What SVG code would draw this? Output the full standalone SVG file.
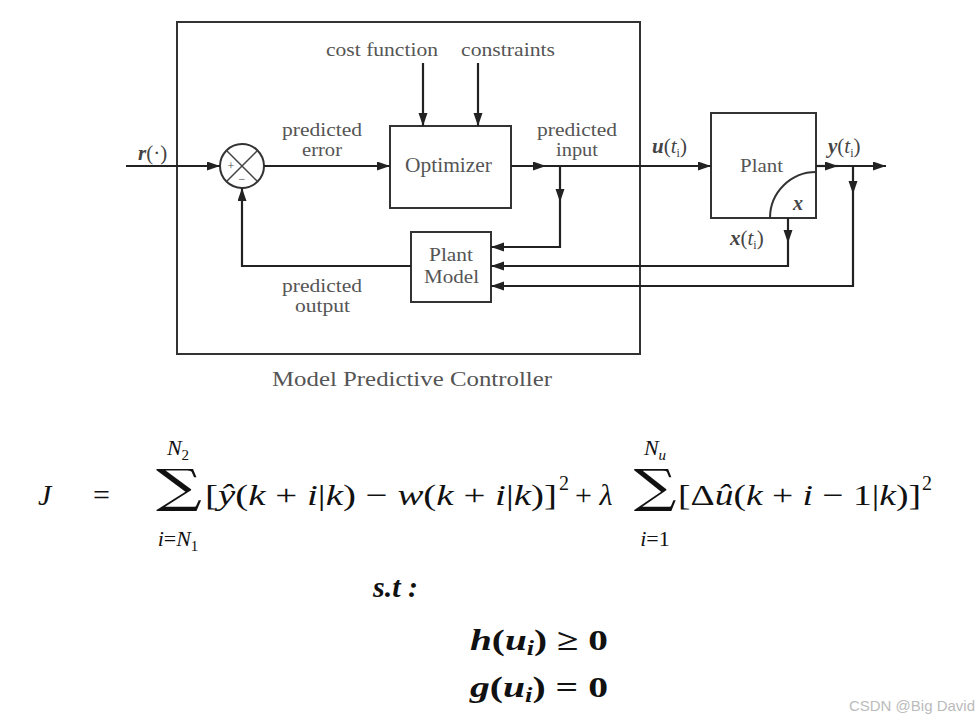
<svg xmlns="http://www.w3.org/2000/svg" width="978" height="722" viewBox="0 0 978 722">
<defs>
<marker id="ah" markerUnits="userSpaceOnUse" markerWidth="14" markerHeight="10" refX="13" refY="4.5" orient="auto"><path d="M0,0 L13,4.5 L0,9 z" fill="#222"/></marker>
<style>
.box{fill:none;stroke:#333;stroke-width:2}
.ln{fill:none;stroke:#222;stroke-width:2.2}
.lbl{font-family:"Liberation Serif",serif;font-size:19px;fill:#555}
.sym{font-family:"Liberation Serif",serif;font-size:21px;fill:#444}
.m{font-family:"Liberation Serif","DejaVu Serif",serif;font-size:30px;fill:#111}
.ms{font-family:"Liberation Serif","DejaVu Serif",serif;font-size:22px;fill:#111}
.sig{font-family:"DejaVu Serif",serif;font-size:46px;fill:#111}
</style>
</defs>
<rect width="978" height="722" fill="#fff"/>
<g id="mpc"><rect class="box" x="177" y="22" width="463" height="332"/>
<text class="lbl" x="272" y="386" textLength="280" lengthAdjust="spacingAndGlyphs" style="font-size:21px">Model Predictive Controller</text></g>
<g id="sum"><circle cx="242" cy="166" r="22" fill="#fff" stroke="#333" stroke-width="2"/>
<path d="M226.5,150.5 L257.5,181.5 M257.5,150.5 L226.5,181.5" stroke="#444" stroke-width="1.5"/>
<text x="231" y="170" font-family="Liberation Serif,serif" font-size="12" fill="#444" text-anchor="middle">+</text>
<text x="242" y="183" font-family="Liberation Serif,serif" font-size="12" fill="#444" text-anchor="middle">−</text></g>
<g id="optimizer"><rect class="box" x="390" y="126" width="121" height="82"/>
<text class="lbl" x="405" y="172" textLength="87" lengthAdjust="spacingAndGlyphs" style="font-size:21px">Optimizer</text></g>
<g id="plantmodel"><rect class="box" x="411" y="232" width="80" height="70"/>
<text class="lbl" x="429" y="261" textLength="44" lengthAdjust="spacingAndGlyphs">Plant</text>
<text class="lbl" x="424" y="283" textLength="55" lengthAdjust="spacingAndGlyphs">Model</text></g>
<g id="plant"><rect class="box" x="711" y="113" width="105" height="105"/>
<path d="M770,218 A46,46 0 0 1 816,172" class="box"/>
<text class="lbl" x="740" y="172" textLength="43" lengthAdjust="spacingAndGlyphs">Plant</text>
<text x="798" y="210" font-family="Liberation Serif,serif" font-size="20" font-style="italic" font-weight="bold" fill="#444" text-anchor="middle">x</text></g>
<g id="connectors">
<path class="ln" d="M126,166 H220" marker-end="url(#ah)"/>
<path class="ln" d="M264,166 H390" marker-end="url(#ah)"/>
<path class="ln" d="M423,63 V126" marker-end="url(#ah)"/>
<path class="ln" d="M478,63 V126" marker-end="url(#ah)"/>
<path class="ln" d="M511,166 H546" marker-end="url(#ah)"/>
<path class="ln" d="M546,166 H711" marker-end="url(#ah)"/>
<path class="ln" d="M560,166 V202" marker-end="url(#ah)"/>
<path class="ln" d="M560,202 V247 H491" marker-end="url(#ah)"/>
<path class="ln" d="M788,218 V243" marker-end="url(#ah)"/>
<path class="ln" d="M788,243 V266 H491" marker-end="url(#ah)"/>
<path class="ln" d="M816,166 H838" marker-end="url(#ah)"/>
<path class="ln" d="M838,166 H886" marker-end="url(#ah)"/>
<path class="ln" d="M853,166 V194" marker-end="url(#ah)"/>
<path class="ln" d="M853,194 V286 H491" marker-end="url(#ah)"/>
<path class="ln" d="M411,266 H242 V188" marker-end="url(#ah)"/>
</g>
<g id="labels">
<text class="lbl" x="326" y="56" textLength="112" lengthAdjust="spacingAndGlyphs">cost function</text>
<text class="lbl" x="461" y="56" textLength="94" lengthAdjust="spacingAndGlyphs">constraints</text>
<text class="lbl" x="282" y="136" textLength="80" lengthAdjust="spacingAndGlyphs">predicted</text>
<text class="lbl" x="302" y="156" textLength="40" lengthAdjust="spacingAndGlyphs">error</text>
<text class="lbl" x="537" y="136" textLength="80" lengthAdjust="spacingAndGlyphs">predicted</text>
<text class="lbl" x="556" y="156" textLength="42" lengthAdjust="spacingAndGlyphs">input</text>
<text class="lbl" x="282" y="292" textLength="80" lengthAdjust="spacingAndGlyphs">predicted</text>
<text class="lbl" x="295" y="312" textLength="55" lengthAdjust="spacingAndGlyphs">output</text>
<text class="sym" x="138" y="160"><tspan font-weight="bold" font-style="italic">r</tspan>(·)</text>
<text class="sym" x="652" y="153"><tspan font-weight="bold" font-style="italic">u</tspan>(<tspan font-style="italic">t</tspan><tspan font-size="12" dy="4">i</tspan><tspan dy="-4">)</tspan></text>
<text class="sym" x="828" y="153"><tspan font-weight="bold" font-style="italic">y</tspan>(<tspan font-style="italic">t</tspan><tspan font-size="12" dy="4">i</tspan><tspan dy="-4">)</tspan></text>
<text class="sym" x="730" y="245"><tspan font-weight="bold" font-style="italic">x</tspan>(<tspan font-style="italic">t</tspan><tspan font-size="12" dy="4">i</tspan><tspan dy="-4">)</tspan></text>
</g>
<g id="formula">
<text class="m" x="38" y="505" font-style="italic">J</text>
<text class="m" x="93" y="505">=</text>
<text class="sig" transform="translate(179,502) scale(1.4,1)" text-anchor="middle">∑</text>
<text class="ms" x="178" y="455" text-anchor="middle"><tspan font-style="italic">N</tspan><tspan font-size="15" dy="5">2</tspan></text>
<text class="ms" x="178" y="546" text-anchor="middle"><tspan font-style="italic">i</tspan>=<tspan font-style="italic">N</tspan><tspan font-size="15" dy="5">1</tspan></text>
<text class="m" x="205" y="505" textLength="352" lengthAdjust="spacingAndGlyphs">[<tspan font-style="italic">ŷ</tspan>(<tspan font-style="italic">k</tspan> + <tspan font-style="italic">i</tspan>|<tspan font-style="italic">k</tspan>) − <tspan font-style="italic">w</tspan>(<tspan font-style="italic">k</tspan> + <tspan font-style="italic">i</tspan>|<tspan font-style="italic">k</tspan>)]</text>
<text class="ms" x="559" y="490" style="font-size:20px">2</text>
<text class="m" x="575" y="505">+ <tspan font-style="italic">λ</tspan></text>
<text class="sig" transform="translate(655,502) scale(1.3,1)" text-anchor="middle">∑</text>
<text class="ms" x="655" y="455" text-anchor="middle"><tspan font-style="italic">N</tspan><tspan font-size="15" dy="5" font-style="italic">u</tspan></text>
<text class="ms" x="655" y="546" text-anchor="middle"><tspan font-style="italic">i</tspan>=1</text>
<text class="m" x="678" y="505" textLength="243" lengthAdjust="spacingAndGlyphs">[Δ<tspan font-style="italic">û</tspan>(<tspan font-style="italic">k</tspan> + <tspan font-style="italic">i</tspan> − 1|<tspan font-style="italic">k</tspan>)]</text>
<text class="ms" x="922" y="490" style="font-size:20px">2</text>
<text class="m" x="373" y="597" font-weight="bold" font-style="italic">s.t :</text>
<text class="m" x="470" y="650" font-weight="bold" textLength="138" lengthAdjust="spacingAndGlyphs"><tspan font-style="italic">h</tspan>(<tspan font-style="italic">u</tspan><tspan font-size="20" dy="5" font-style="italic">i</tspan><tspan dy="-5">) ≥ 0</tspan></text>
<text class="m" x="470" y="697" font-weight="bold" textLength="138" lengthAdjust="spacingAndGlyphs"><tspan font-style="italic">g</tspan>(<tspan font-style="italic">u</tspan><tspan font-size="20" dy="5" font-style="italic">i</tspan><tspan dy="-5">) = 0</tspan></text>
</g>
<text x="975" y="711" text-anchor="end" font-family="Liberation Sans,Arial,sans-serif" font-size="15" fill="#bbb">CSDN @Big David</text>
</svg>
